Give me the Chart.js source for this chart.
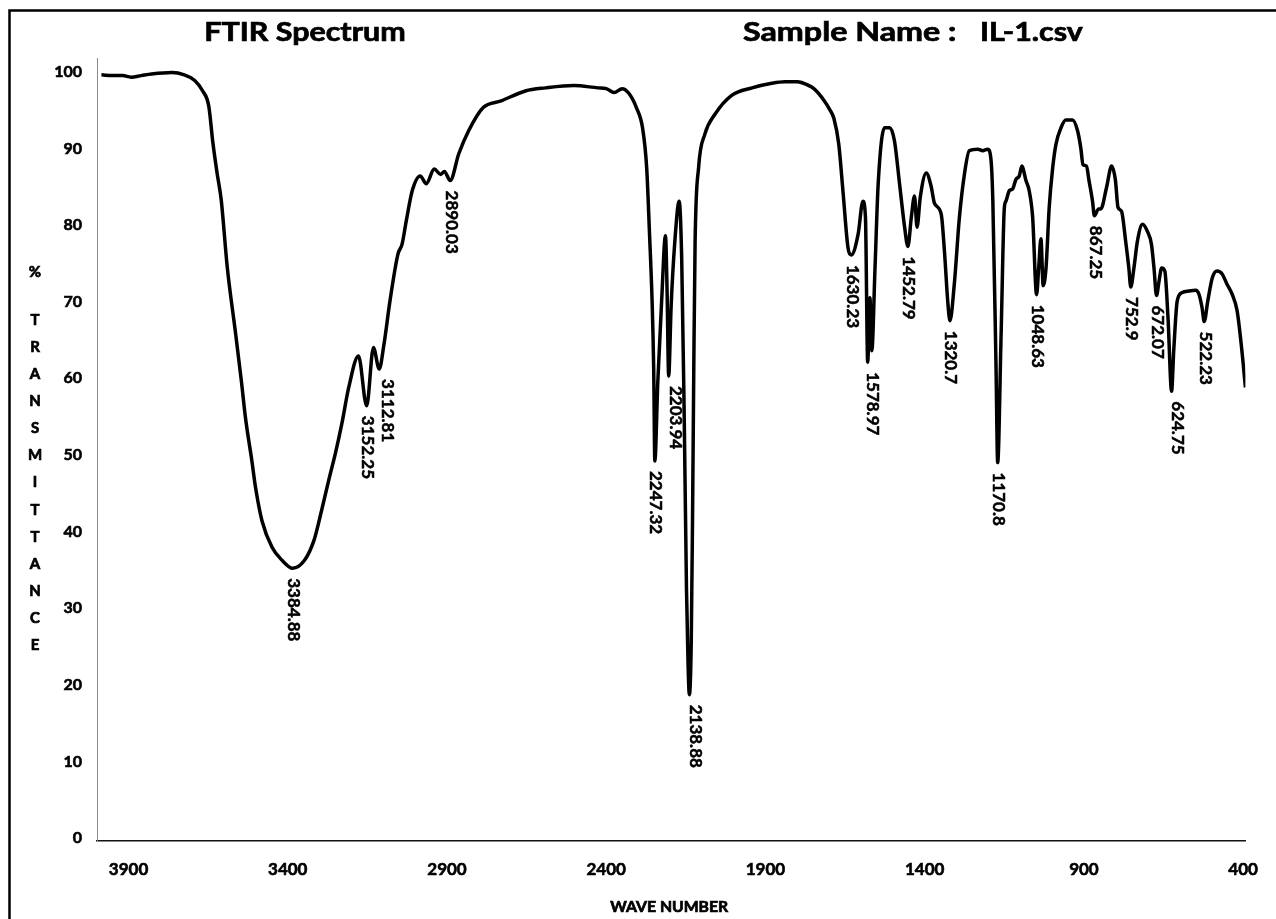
<!DOCTYPE html>
<html lang="en">
<head>
  <meta charset="UTF-8" />
  <title>FTIR Spectrum - IL-1</title>
  <script src="https://cdn.jsdelivr.net/npm/chart.js"></script>
  <style>
    body {
      margin: 0;
      background: #fff;
    }
    canvas {
      display: block;
    }
  </style>
</head>
<body>
  <canvas id="ftir" width="1276" height="919"></canvas>

  <script>
    // spectrum in three stretches: wavenumber (cm-1) and %T
    const wnHigh = [3985, 3950, 3918, 3892, 3860, 3828, 3764, 3725, 3693, 3667, 3648, 3635, 3622, 3609, 3590, 3564,
      3545, 3533, 3513, 3501, 3481, 3449, 3417, 3348, 3318, 3294, 3269, 3251, 3230, 3209, 3178, 3131, 3098, 3079,
      3054, 3041, 3028, 3009, 2984, 2965, 2940, 2920, 2908, 2863, 2832, 2787, 2730, 2654, 2590, 2502, 2426, 2400,
      2375, 2350, 2329];
    const tHigh = [100, 99.9, 99.9, 99.7, 99.9, 100.1, 100.3, 100, 99.3, 97.9, 95.9, 91.1, 87.2, 83.7, 74.9, 66.3,
      59.8, 55.3, 49.7, 46.1, 41.8, 38.3, 36.6, 36.6, 39.2, 43.1, 47.5, 50.5, 54.5, 59.1, 63.3, 64.4, 64.8, 70.5,
      76.6, 77.9, 80.9, 84.9, 86.8, 85.8, 87.7, 87, 87.4, 89.7, 92.7, 95.7, 96.6, 97.9, 98.3, 98.6, 98.3, 98.2,
      97.7, 98.2, 97.6];

    const wnMid = [2305, 2286, 2273, 2264, 2256, 2251, 2238, 2226, 2214, 2209, 2196, 2185, 2171, 2163, 2155, 2148,
      2143, 2133, 2129, 2125, 2121, 2110, 2090, 2058, 2007, 1942, 1880, 1839, 1800, 1787, 1748, 1715, 1700, 1685,
      1670, 1656, 1641];
    const tMid = [95.7, 93.1, 87.9, 79.2, 70.5, 61.8, 60, 70.5, 79, 72, 70, 78, 83.5, 76, 55, 33,
      23, 26, 42, 62, 78, 87.9, 92.3, 94.9, 97.3, 98.3, 98.9, 99.1, 99.1, 99, 98.2, 96.6, 95.6, 94.3,
      91, 84.5, 77.5];

    const wnLow = [1609, 1594, 1586, 1572, 1566, 1556, 1546, 1526, 1510, 1495, 1479, 1463, 1442, 1432, 1424, 1414,
      1395, 1380, 1369, 1348, 1338, 1327, 1307, 1291, 1275, 1260, 1233, 1218, 1202, 1192, 1186, 1176, 1160, 1150,
      1145, 1134, 1124, 1113, 1103, 1095, 1082, 1072, 1061, 1042, 1035, 1028, 1019, 1009, 998, 988, 972, 957,
      936, 920, 910, 903, 892, 884, 873, 854, 847, 829, 813, 801, 793, 782, 769, 759, 743, 732, 716, 701,
      688, 680, 664, 656, 646, 636, 618, 607, 591, 570, 549, 539, 529, 511, 497, 482, 466, 451, 435, 419,
      404, 393];
    const tLow = [79.2, 83.5, 81.4, 70.9, 64, 74.8, 85.8, 93.1, 93.1, 91.4, 85.8, 80.1, 81.4, 84.2, 80.1, 84,
      87.2, 85.5, 83.2, 81.8, 77, 70.1, 72.7, 81.4, 87.1, 90.1, 90.3, 90.1, 90.3, 89, 83.5, 61.8, 66.2, 82.6,
      83.5, 84.9, 85.1, 86.4, 86.8, 88.1, 86.2, 84.9, 81.4, 74.8, 78.6, 72.5, 74.8, 82.7, 87.9, 90.9, 93.1, 94.1,
      94.1, 92.7, 90.5, 88.3, 88.1, 86.2, 83.5, 82.5, 82.5, 85.3, 88.1, 86.2, 82.7, 82.2, 78.3, 74.8, 74.8, 78.3, 80.5, 79.6,
      77.9, 74.8, 73.1, 74.8, 74.4, 68.3, 64, 70.5, 71.6, 71.8, 71.9, 71.4, 69.6, 70.5, 73.5, 74.4, 74, 72.7, 71.4, 69.2,
      64, 59.2];

    // labelled band minima
    const peakWn = [3384.88, 3152.25, 3112.81, 2890.03, 2247.32, 2203.94, 2138.88, 1630.23, 1578.97,
      1452.79, 1320.7, 1170.8, 1048.63, 867.25, 752.9, 672.07, 624.75, 522.23];
    const peakT = [35.6, 56.8, 61.6, 86.2, 49.6, 60.7, 19.1, 76.5, 62.5,
      77.6, 67.9, 49.4, 71.3, 81.6, 72.3, 71.2, 58.7, 67.8];

    const xTicks = [3900, 3400, 2900, 2400, 1900, 1400, 900, 400];
    const yTicks = [0, 10, 20, 30, 40, 50, 60, 70, 80, 90, 100];

    const points = [];
    [[wnHigh, tHigh], [wnMid, tMid], [wnLow, tLow], [peakWn, peakT]].forEach(([wn, t]) => {
      wn.forEach((w, i) => points.push({ x: w, y: t[i] }));
    });
    points.sort((a, b) => b.x - a.x);

    Chart.defaults.font.family = 'Lato, sans-serif';
    Chart.defaults.color = '#000';

    // bold text, a bit heavier, optionally widened
    function heavyText(ctx, text, x, y, align, sx) {
      ctx.save();
      ctx.translate(x, y);
      ctx.scale(sx || 1, 1);
      ctx.textAlign = align;
      ctx.fillText(text, 0, 0);
      ctx.strokeText(text, 0, 0);
      ctx.restore();
    }

    const decorations = {
      id: 'decorations',
      beforeDraw(chart) {
        const ctx = chart.ctx;
        ctx.save();
        ctx.fillStyle = '#fff';
        ctx.fillRect(0, 0, chart.width, chart.height);
        // outer frame, only its left and top edges are on the page
        ctx.strokeStyle = '#000';
        ctx.lineWidth = 2.5;
        ctx.beginPath();
        ctx.moveTo(9.5, chart.height);
        ctx.lineTo(9.5, 10.5);
        ctx.lineTo(chart.width, 10.5);
        ctx.stroke();
        ctx.restore();
      },
      afterDraw(chart) {
        const { ctx, chartArea, scales: { x, y } } = chart;
        ctx.save();
        ctx.fillStyle = '#000';
        ctx.strokeStyle = '#000';
        ctx.lineWidth = 0.7;
        ctx.textBaseline = 'middle';

        ctx.font = 'bold 26px Lato';
        heavyText(ctx, 'FTIR Spectrum', 305, 33, 'center', 1.17);
        heavyText(ctx, 'Sample Name :', 743, 33, 'left', 1.24);
        heavyText(ctx, 'IL-1.csv', 980, 33, 'left', 1.17);

        // axis titles: x under the tick labels, y stacked one letter per line
        ctx.font = 'bold 15px Lato';
        heavyText(ctx, 'WAVE NUMBER', (chartArea.left + chartArea.right) / 2 - 2, 907, 'center', 1.05);
        heavyText(ctx, '%', 35, 272, 'center');
        'TRANSMITTANCE'.split('').forEach((ch, i) => heavyText(ctx, ch, 35, 320 + i * 27.1, 'center'));

        // band labels, turned to read downwards under each minimum;
        // a label too close to its left neighbour is moved right
        ctx.font = 'bold 17px Lato';
        ctx.lineWidth = 0.5;
        let prevX = -Infinity;
        peakWn.forEach((w, i) => {
          let px = x.getPixelForValue(w) + 1;
          if (px - prevX < 20) px = prevX + 20;
          prevX = px;
          ctx.save();
          ctx.translate(px, y.getPixelForValue(peakT[i]) + 10);
          ctx.rotate(Math.PI / 2);
          heavyText(ctx, String(w), 0, 0, 'left');
          ctx.restore();
        });
        ctx.restore();
      }
    };

    new Chart(document.getElementById('ftir'), {
      type: 'line',
      data: {
        datasets: [{
          label: 'IL-1',
          data: points,
          borderColor: '#000',
          borderWidth: 3.5,
          pointRadius: 0,
          cubicInterpolationMode: 'monotone',
          fill: false
        }]
      },
      options: {
        responsive: false,
        animation: false,
        layout: { padding: { top: 58, right: 27, left: 0, bottom: 0 } },
        plugins: {
          legend: { display: false },
          tooltip: { enabled: false }
        },
        scales: {
          x: {
            type: 'linear',
            reverse: true,
            min: 393,
            max: 3999,
            afterBuildTicks: s => { s.ticks = xTicks.map(v => ({ value: v })); },
            afterFit: s => { s.height = 78; },
            grid: { display: false, drawTicks: false },
            border: { color: '#111', width: 1.5 },
            ticks: {
              font: { size: 17, weight: 'bold' },
              textStrokeColor: '#000',
              textStrokeWidth: 0.6,
              padding: 18,
              maxRotation: 0,
              autoSkip: false,
              callback: v => String(v)
            }
          },
          y: {
            min: 0,
            max: 102.2,
            afterBuildTicks: s => { s.ticks = yTicks.map(v => ({ value: v })); },
            afterFit: s => { s.width = 97; },
            grid: { display: false, drawTicks: false },
            border: { color: '#8a8a8a', width: 1 },
            ticks: {
              font: { size: 16, weight: 'bold' },
              textStrokeColor: '#000',
              textStrokeWidth: 0.6,
              padding: 15,
              labelOffset: -3
            }
          }
        }
      },
      plugins: [decorations]
    });
  </script>
</body>
</html>
